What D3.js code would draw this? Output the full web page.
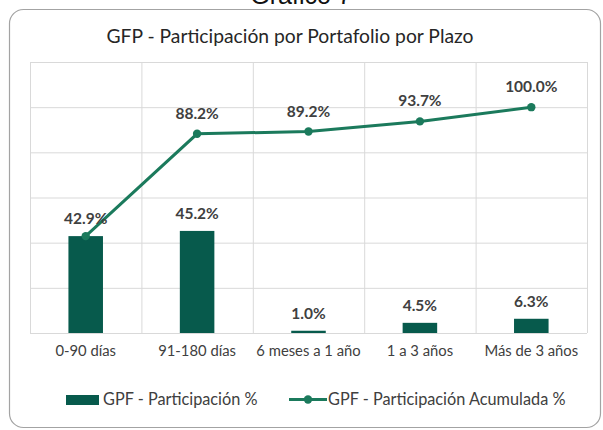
<!DOCTYPE html>
<html>
<head>
<meta charset="utf-8">
<script src="https://cdn.jsdelivr.net/npm/d3@7"></script>
<style>
  body { margin: 0; background: #fff; }
  svg { display: block; font-family: Lato, "Open Sans", sans-serif; }
</style>
</head>
<body>
<svg id="chart" width="603" height="430"></svg>
<script>
"use strict"

// data
const categories = ["0-90 días", "91-180 días", "6 meses a 1 año", "1 a 3 años", "Más de 3 años"]
const participacion = [42.9, 45.2, 1.0, 4.5, 6.3]
const acumulada = [42.9, 88.2, 89.2, 93.7, 100.0]
const yTicks = [0, 20, 40, 60, 80, 100, 120]
const seriesNames = ["GPF - Participación %", "GPF - Participación Acumulada %"]

const barColor = "#075a4c"
const lineColor = "#1b7a5c"
const gridColor = "#d9d9d9"
const textColor = "#404040"

const svg = d3.select("#chart")
const plot = {left: 30, right: 587, top: 62, bottom: 333}

// outer frame + the heading above it (cut by the top edge, as in the source)
svg.append("text")
    .attr("x", 301)
    .attr("y", 4)
    .attr("text-anchor", "middle")
    .style("font-family", "'Liberation Sans', sans-serif")
    .style("font-size", "25px")
    .style("fill", "#111")
    .text("Gráfico 7")

svg.append("rect")
    .attr("x", 9.5)
    .attr("y", 9.5)
    .attr("width", 591)
    .attr("height", 418)
    .attr("rx", 14)
    .style("fill", "#fff")
    .style("stroke", "#a3a3a3")
    .style("stroke-width", 1.2)

svg.append("text")
    .attr("x", 290)
    .attr("y", 43)
    .attr("text-anchor", "middle")
    .style("font-size", "19.3px")
    .style("fill", "#262626")
    .text("GFP - Participación por Portafolio por Plazo")

const x = d3.scaleBand()
    .domain(categories)
    .range([plot.left, plot.right])

const y = d3.scaleLinear()
    .domain([0, 120])
    .range([plot.bottom, plot.top])

// horizontal grid
svg.append("g")
    .attr("class", "grid-y")
    .attr("transform", "translate(" + plot.left + ",0)")
    .call(d3.axisLeft(y).tickValues(yTicks).tickSize(-(plot.right - plot.left)).tickFormat(""))
    .call(g => g.select(".domain").remove())
    .call(g => g.selectAll("line").style("stroke", gridColor))

// vertical grid at category edges
const edges = categories.map(c => x(c)).concat([plot.right])
svg.append("g")
    .attr("class", "grid-x")
    .selectAll("line")
    .data(edges)
    .enter()
    .append("line")
    .attr("x1", d => d + 0.5)
    .attr("x2", d => d + 0.5)
    .attr("y1", plot.top)
    .attr("y2", plot.bottom)
    .style("stroke", gridColor)

// category labels
svg.append("g")
    .attr("class", "x axis")
    .attr("transform", "translate(0," + plot.bottom + ")")
    .call(d3.axisBottom(x).tickSize(0).tickPadding(12))
    .call(g => g.select(".domain").remove())
    .call(g => g.selectAll("text")
        .style("font-family", "Lato, sans-serif")
        .style("font-size", "14.8px")
        .style("fill", textColor))

// bars
const barW = x.bandwidth() * 0.31
svg.append("g")
    .selectAll(".bar")
    .data(participacion)
    .enter()
    .append("rect")
    .attr("class", "bar")
    .attr("x", (d, i) => x(categories[i]) + (x.bandwidth() - barW) / 2)
    .attr("y", d => y(d))
    .attr("width", barW)
    .attr("height", d => plot.bottom - y(d))
    .style("fill", barColor)

// cumulative line
const line = d3.line()
    .x((d, i) => x(categories[i]) + x.bandwidth() / 2)
    .y(d => y(d))

svg.append("path")
    .datum(acumulada)
    .attr("d", line)
    .style("fill", "none")
    .style("stroke", lineColor)
    .style("stroke-width", 3)

svg.append("g")
    .selectAll(".dot")
    .data(acumulada)
    .enter()
    .append("circle")
    .attr("class", "dot")
    .attr("cx", (d, i) => x(categories[i]) + x.bandwidth() / 2)
    .attr("cy", d => y(d))
    .attr("r", 4.2)
    .style("fill", lineColor)

// data labels (the first cumulative label sits on the first bar label)
const labelStyle = sel => sel
    .attr("text-anchor", "middle")
    .style("font-size", "15.5px")
    .style("font-weight", "bold")
    .style("fill", textColor)

svg.append("g")
    .selectAll(".bar-label")
    .data(participacion)
    .enter()
    .append("text")
    .attr("class", "bar-label")
    .attr("x", (d, i) => x(categories[i]) + x.bandwidth() / 2)
    .attr("y", d => y(d) - 12)
    .text(d => d.toFixed(1) + "%")
    .call(labelStyle)

svg.append("g")
    .selectAll(".line-label")
    .data(acumulada.slice(1))
    .enter()
    .append("text")
    .attr("class", "line-label")
    .attr("x", (d, i) => x(categories[i + 1]) + x.bandwidth() / 2)
    .attr("y", d => y(d) - 15)
    .text(d => d.toFixed(1) + "%")
    .call(labelStyle)

// legend
const legend = svg.append("g").attr("class", "legend")

legend.append("rect")
    .attr("x", 66)
    .attr("y", 395)
    .attr("width", 33)
    .attr("height", 10)
    .style("fill", barColor)

legend.append("text")
    .attr("x", 103)
    .attr("y", 405)
    .style("font-size", "16.3px")
    .style("fill", textColor)
    .text(seriesNames[0])

legend.append("line")
    .attr("x1", 289)
    .attr("x2", 327)
    .attr("y1", 399.5)
    .attr("y2", 399.5)
    .style("stroke", lineColor)
    .style("stroke-width", 3)

legend.append("circle")
    .attr("cx", 308)
    .attr("cy", 399.5)
    .attr("r", 4.2)
    .style("fill", lineColor)

legend.append("text")
    .attr("x", 328)
    .attr("y", 405)
    .style("font-size", "16.3px")
    .style("fill", textColor)
    .text(seriesNames[1])
</script>
</body>
</html>
